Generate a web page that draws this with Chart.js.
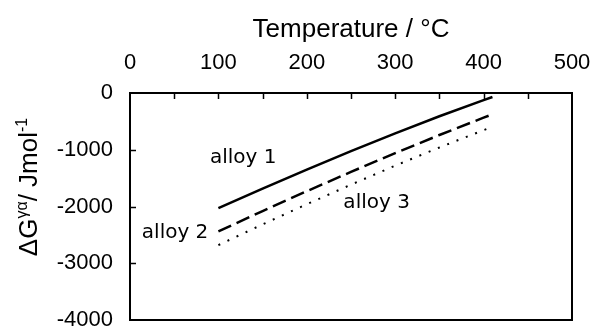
<!DOCTYPE html>
<html>
<head>
<meta charset="utf-8">
<script src="https://cdn.jsdelivr.net/npm/chart.js@4"></script>
<style>
  html, body { margin: 0; padding: 0; background: #fff; }
  #wrap { width: 591px; height: 329px; }
</style>
</head>
<body>
<div id="wrap"><canvas id="chart" width="591" height="329"></canvas></div>
<script>
// данные
const temps  = [100, 150, 200, 250, 300, 350, 400, 410];
const alloy1 = [-2030, -1685, -1350, -1025, -710, -410, -125, -70];
const alloy2 = [-2440, -2080, -1730, -1390, -1060, -740, -435, -376];
const alloy3 = [-2680, -2315, -1960, -1615, -1280, -960, -655, -596];

const xTicks = [0, 100, 200, 300, 400, 500];
const yTicks = [0, -1000, -2000, -3000, -4000];

const labelNames = ["alloy 1", "alloy 2", "alloy 3"];
const labelX = [128, 51, 279];
const labelY = [-1145, -2467, -1938];

const FONT = "'Liberation Sans', Arial, sans-serif";
const LBL_FONT = "'DejaVu Sans', sans-serif";

function pts(arr){ return temps.map((t, i) => ({x: t, y: arr[i]})); }

// рамка, внутренние засечки, подписи
const extras = {
  id: "extras",
  afterDraw(chart){
    const {ctx, chartArea: a, scales: {x, y}} = chart;
    ctx.save();
    ctx.strokeStyle = "#000";
    ctx.lineWidth = 2;
    ctx.strokeRect(a.left, a.top, a.right - a.left, a.bottom - a.top);

    ctx.lineWidth = 1.5;
    ctx.beginPath();
    for(let v = 50; v < 500; v += 50){
      const px = Math.round(x.getPixelForValue(v)) + 0.5;
      ctx.moveTo(px, a.top); ctx.lineTo(px, a.top + 6);
    }
    yTicks.forEach(v => {
      if(v === 0 || v === -4000) return;
      const py = Math.round(y.getPixelForValue(v)) + 0.5;
      ctx.moveTo(a.left, py); ctx.lineTo(a.left + 6, py);
    });
    ctx.stroke();

    // подписи сплавов
    ctx.fillStyle = "#000";
    ctx.font = "20px " + LBL_FONT;
    ctx.textAlign = "center";
    ctx.textBaseline = "middle";
    labelNames.forEach((n, i) => {
      ctx.fillText(n, x.getPixelForValue(labelX[i]), y.getPixelForValue(labelY[i]));
    });

    // заголовок оси Y с индексами
    const parts = [
      {t: "\u0394", s: 26, r: 0},
      {t: "G", s: 26, r: 0},
      {t: "\u03b3\u03b1", s: 16, r: 10},
      {t: "/ Jmol", s: 26, r: 0},
      {t: "-1", s: 16, r: 10}
    ];
    let total = 0;
    parts.forEach(p => { ctx.font = p.s + "px " + FONT; p.w = ctx.measureText(p.t).width; total += p.w; });
    ctx.translate(37, 187);
    ctx.rotate(-Math.PI / 2);
    ctx.textAlign = "left";
    ctx.textBaseline = "alphabetic";
    let cx = -total / 2;
    parts.forEach(p => {
      ctx.font = p.s + "px " + FONT;
      ctx.fillText(p.t, cx, -p.r);
      cx += p.w;
    });
    ctx.restore();
  }
};

new Chart(document.getElementById("chart"), {
  type: "line",
  data: {
    datasets: [
      {label: "alloy 1", data: pts(alloy1), borderColor: "#000", borderWidth: 2.5, pointRadius: 0},
      {label: "alloy 2", data: pts(alloy2), borderColor: "#000", borderWidth: 2.5, borderDash: [14, 6], pointRadius: 0},
      {label: "alloy 3", data: pts(alloy3), borderColor: "#000", borderWidth: 2, borderDash: [2, 8], pointRadius: 0}
    ]
  },
  options: {
    responsive: false,
    animation: false,
    layout: {padding: {left: 0, top: 0, right: 19, bottom: 9}},
    plugins: {legend: {display: false}, tooltip: {enabled: false}},
    scales: {
      x: {
        type: "linear", position: "top", min: 0, max: 500,
        afterBuildTicks: s => { s.ticks = xTicks.map(v => ({value: v})); },
        afterFit: s => { s.height = 93; s.paddingLeft = 0; s.paddingRight = 0; },
        grid: {display: false, drawTicks: false},
        border: {display: false},
        ticks: {color: "#000", padding: 17, maxRotation: 0, font: {family: FONT, size: 22}, callback: v => String(v)},
        title: {display: true, text: "Temperature / \u00b0C", color: "#000", font: {family: FONT, size: 26}, padding: {top: 14, bottom: 2}}
      },
      y: {
        min: -4000, max: 0,
        afterBuildTicks: s => { s.ticks = yTicks.map(v => ({value: v})); },
        afterFit: s => { s.width = 130; s.paddingTop = 0; s.paddingBottom = 0; },
        grid: {display: false, drawTicks: false},
        border: {display: false},
        ticks: {color: "#000", padding: 17, font: {family: FONT, size: 22}, callback: v => String(v)}
      }
    }
  },
  plugins: [extras]
});
</script>
</body>
</html>
